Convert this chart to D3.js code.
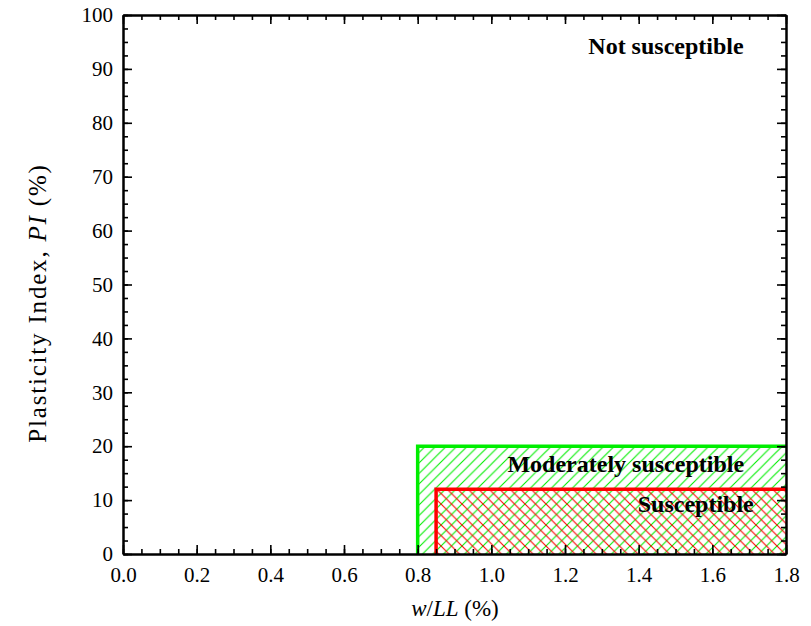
<!DOCTYPE html>
<html>
<head>
<meta charset="utf-8">
<script src="https://cdn.jsdelivr.net/npm/d3@7"></script>
<style>
  body { margin: 0; background: #fff; }
</style>
</head>
<body>
<div id="chart-area"></div>
<script>
// chart values
let xTicks = [0.0, 0.2, 0.4, 0.6, 0.8, 1.0, 1.2, 1.4, 1.6, 1.8];
let yTicks = [0, 10, 20, 30, 40, 50, 60, 70, 80, 90, 100];
let zoneNames = ["Moderately susceptible", "Susceptible"];
let zoneXmin = [0.8, 0.85];
let zoneXmax = [1.8, 1.8];
let zoneYmax = [20, 12];
let zoneColors = ["#00ee00", "#ff0000"];
// label anchor points (data units)
let zoneLabelX = [1.365, 1.555];
let zoneLabelY = [15.2, 7.8];
let topLabel = "Not susceptible";

let serif = "'Liberation Serif', 'Times New Roman', Times, serif";

let width = 811, height = 626;
let margin = {top: 15, bottom: 72, left: 123, right: 25};

let svg = d3.select('#chart-area').append('svg')
    .attr('width', width)
    .attr('height', height)
    .attr('font-family', serif);

let x = d3.scaleLinear()
    .domain([0, 1.8])
    .range([margin.left, width - margin.right]);

let y = d3.scaleLinear()
    .domain([0, 100])
    .range([height - margin.bottom, margin.top]);

// hatch patterns
let sp = 10.5;
let defs = svg.append('defs');
defs.append('pattern')
    .attr('id', 'hatchG')
    .attr('patternUnits', 'userSpaceOnUse')
    .attr('width', sp).attr('height', sp)
    .append('path')
    .attr('d', `M-2,${sp + 2} L${sp + 2},-2 M-2,2 L2,-2 M${sp - 2},${sp + 2} L${sp + 2},${sp - 2}`)
    .style('stroke', zoneColors[0])
    .style('stroke-width', '1.1px')
    .style('fill', 'none');

defs.append('pattern')
    .attr('id', 'hatchR')
    .attr('patternUnits', 'userSpaceOnUse')
    .attr('width', sp).attr('height', sp)
    .append('path')
    .attr('d', `M-2,-2 L${sp + 2},${sp + 2} M-2,${sp - 2} L2,${sp + 2} M${sp - 2},-2 L${sp + 2},2`)
    .style('stroke', zoneColors[1])
    .style('stroke-width', '1.1px')
    .style('fill', 'none');

// green hatch across the whole green zone (also continues under red)
svg.append('rect')
    .attr('x', x(zoneXmin[0]))
    .attr('y', y(zoneYmax[0]))
    .attr('width', x(zoneXmax[0]) - x(zoneXmin[0]))
    .attr('height', y(0) - y(zoneYmax[0]))
    .style('fill', 'url(#hatchG)');

svg.append('rect')
    .attr('x', x(zoneXmin[1]))
    .attr('y', y(zoneYmax[1]))
    .attr('width', x(zoneXmax[1]) - x(zoneXmin[1]))
    .attr('height', y(0) - y(zoneYmax[1]))
    .style('fill', 'url(#hatchR)');

// zone outlines
zoneNames.forEach(function(name, i){
    let x0 = x(zoneXmin[i]), x1 = x(zoneXmax[i]), y0 = y(0), y1 = y(zoneYmax[i]);
    svg.append('path')
        .attr('d', 'M' + x0 + ',' + y0 + 'L' + x0 + ',' + y1 + 'L' + x1 + ',' + y1)
        .attr('fill', 'none')
        .attr('stroke', zoneColors[i])
        .attr('stroke-width', 3.5);
});

// minor tick positions
function minor(step, max){
    let out = [];
    for (let v = 0; v <= max + 1e-9; v += step) out.push(+v.toFixed(3));
    return out;
}
let xMinor = minor(0.05, 1.8);
let yMinor = minor(2.5, 100);

let bottomAxis = d3.axisBottom(x).tickValues(xTicks).tickFormat(d3.format('.1f')).tickSizeInner(-9).tickSizeOuter(0).tickPadding(13);
let leftAxis = d3.axisLeft(y).tickValues(yTicks).tickFormat(d3.format('d')).tickSizeInner(-9).tickSizeOuter(0).tickPadding(10);

let bx = svg.append('g').attr('class', 'axis').attr('transform', 'translate(0,' + y(0) + ')');
bx.call(d3.axisBottom(x).tickValues(xMinor).tickFormat('').tickSizeInner(-5).tickSizeOuter(0));
bx.append('g').call(bottomAxis);

let tx = svg.append('g').attr('class', 'axis').attr('transform', 'translate(0,' + y(100) + ')');
tx.call(d3.axisTop(x).tickValues(xMinor).tickFormat('').tickSizeInner(-5).tickSizeOuter(0));
tx.append('g').call(d3.axisTop(x).tickValues(xTicks).tickFormat('').tickSizeInner(-9).tickSizeOuter(0));

let ly = svg.append('g').attr('class', 'axis').attr('transform', 'translate(' + x(0) + ',0)');
ly.call(d3.axisLeft(y).tickValues(yMinor).tickFormat('').tickSizeInner(-5).tickSizeOuter(0));
ly.append('g').call(leftAxis);

let ry = svg.append('g').attr('class', 'axis').attr('transform', 'translate(' + x(1.8) + ',0)');
ry.call(d3.axisRight(y).tickValues(yMinor).tickFormat('').tickSizeInner(-5).tickSizeOuter(0));
ry.append('g').call(d3.axisRight(y).tickValues(yTicks).tickFormat('').tickSizeInner(-9).tickSizeOuter(0));

svg.selectAll('.axis').attr('font-family', serif);
svg.selectAll('.axis g').attr('font-family', serif);
svg.selectAll('.axis path.domain').attr('stroke', '#000').attr('stroke-width', 2);
svg.selectAll('.axis .tick line').attr('stroke', '#000').attr('stroke-width', 1.6);
svg.selectAll('.axis .tick text')
    .attr('fill', '#000')
    .style('font-family', serif)
    .style('font-size', '21px');

// zone labels
zoneNames.forEach(function(name, i){
    svg.append('text')
        .attr('x', x(zoneLabelX[i]))
        .attr('y', y(zoneLabelY[i]))
        .attr('text-anchor', 'middle')
        .style('font-family', serif)
        .style('font-size', '24px')
        .style('font-weight', 'bold')
        .text(name);
});

svg.append('text')
    .attr('x', x(1.685))
    .attr('y', y(92.8))
    .attr('text-anchor', 'end')
    .style('font-family', serif)
    .style('font-size', '24px')
    .style('font-weight', 'bold')
    .text(topLabel);

// axis titles
let xt = svg.append('text')
    .attr('x', 455)
    .attr('y', 616)
    .attr('text-anchor', 'middle')
    .style('font-family', serif)
    .style('font-size', '23px');
xt.append('tspan').style('font-style', 'italic').text('w');
xt.append('tspan').text('/');
xt.append('tspan').style('font-style', 'italic').text('LL');
xt.append('tspan').text(' (%)');

let yt = svg.append('text')
    .attr('transform', 'translate(46,303) rotate(-90)')
    .attr('text-anchor', 'middle')
    .style('font-family', serif)
    .style('font-size', '25px')
    .style('letter-spacing', '1.8px');
yt.append('tspan').text('Plasticity Index, ');
yt.append('tspan').style('font-style', 'italic').text('PI');
yt.append('tspan').text(' (%)');
</script>
</body>
</html>
